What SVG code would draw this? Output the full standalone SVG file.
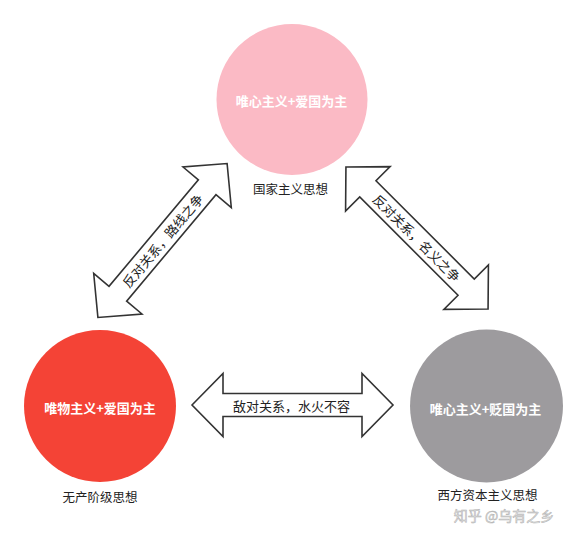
<svg xmlns="http://www.w3.org/2000/svg" width="586" height="540" viewBox="0 0 586 540">
<style>
.t{font-family:"Noto Sans CJK SC","Liberation Sans",sans-serif;text-anchor:middle;dominant-baseline:central}
.in{fill:#ffffff;font-size:13px;font-weight:bold}
.lb{fill:#222222;font-size:12.5px}
.al{fill:#222222;font-size:13px}
.arr{fill:#ffffff;stroke:#333333;stroke-width:1.6;stroke-linejoin:miter}
</style>
<defs>
<polygon id="dbl" points="-100.5,0 -69.5,-31.5 -69.5,-11.5 69.5,-11.5 69.5,-31.5 100.5,0 69.5,31.5 69.5,11.5 -69.5,11.5 -69.5,31.5"/>
</defs>
<rect width="586" height="540" fill="#ffffff"/>
<g id="connectors">
<g transform="translate(162.5,240.5) rotate(-50)">
<use href="#dbl" class="arr"/>
<text class="t al" x="0" y="0">反对关系，路线之争</text>
</g>
<g transform="translate(417,238) rotate(45)">
<use href="#dbl" class="arr"/>
<text class="t al" x="0" y="0">反对关系，名义之争</text>
</g>
<g transform="translate(292.5,405)">
<use href="#dbl" class="arr"/>
<text class="t al" x="-1" y="0">敌对关系，水火不容</text>
</g>
</g>
<g id="node-nationalism">
<circle cx="292" cy="99.5" r="75.5" fill="#fbbac5"/>
<text class="t in" x="291.5" y="100.5">唯心主义+爱国为主</text>
<text class="t lb" x="290.5" y="188">国家主义思想</text>
</g>
<g id="node-proletarian">
<circle cx="100" cy="406" r="76" fill="#f44336"/>
<text class="t in" x="100" y="407">唯物主义+爱国为主</text>
<text class="t lb" x="100" y="496">无产阶级思想</text>
</g>
<g id="node-western">
<circle cx="486.5" cy="406" r="76.5" fill="#9d9b9e"/>
<text class="t in" x="485.5" y="408">唯心主义+贬国为主</text>
<text class="t lb" x="487.5" y="494.5">西方资本主义思想</text>
</g>
<text class="t" x="504" y="515" style="font-size:14px;fill:#e8e8e8;stroke:#b0b0b0;stroke-width:0.5">知乎 @乌有之乡</text>
</svg>
